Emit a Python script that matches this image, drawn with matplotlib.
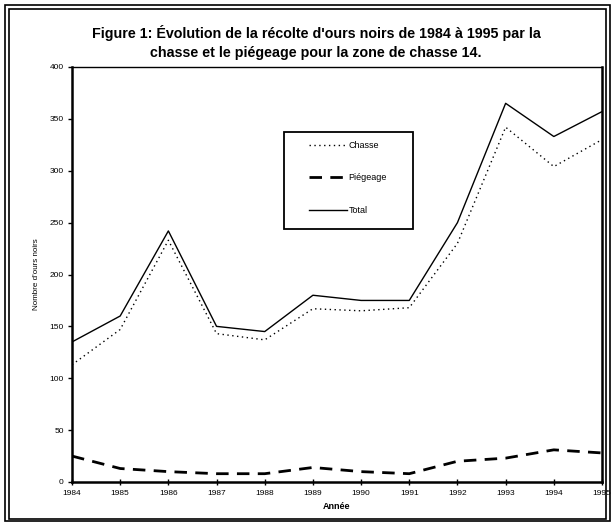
import matplotlib
matplotlib.use("Agg")
import matplotlib.pyplot as plt
from matplotlib.patches import Rectangle

plt.rcParams["font.family"] = ["Liberation Sans", "DejaVu Sans"]

years = list(range(1984, 1996))
chasse = [113, 147, 233, 143, 137, 167, 165, 168, 230, 342, 304, 330]
piegeage = [25, 13, 10, 8, 8, 14, 10, 8, 20, 23, 31, 28]
total = [135, 160, 242, 150, 145, 180, 175, 175, 250, 365, 333, 357]
y_ticks = list(range(0, 401, 50))

W, H = 614, 522
fig = plt.figure(figsize=(W / 100, H / 100), dpi=100)
# plot area in pixels: x 72..602, y 67..482
ax = fig.add_axes([72 / W, 1 - 482 / H, 530 / W, 415 / H])

ax.plot(years, chasse, color="black", lw=1.0, ls=(0, (1, 2.5)), label="Chasse")
ax.plot(years, piegeage, color="black", lw=2.0, ls=(0, (4.5, 3)), label="Piégeage")
ax.plot(years, total, color="black", lw=1.0, ls="-", label="Total")

ax.set_xlim(years[0], years[-1])
ax.set_ylim(0, 400)
ax.set_xticks(years, [str(y) for y in years])
ax.set_yticks(y_ticks, [str(v) for v in y_ticks])
ax.tick_params(axis="both", labelsize=6, width=1, pad=3)
ax.tick_params(axis="x", direction="inout", length=5)
ax.tick_params(axis="y", direction="out", length=3)
for side in ("left", "bottom", "right"):
    ax.spines[side].set_linewidth(1.8)
ax.spines["top"].set_linewidth(1.0)

ax.set_xlabel("Année", fontsize=6.5, fontweight="bold", labelpad=4)
ax.set_ylabel("Nombre d'ours noirs", fontsize=5.8, labelpad=7)

# legend: entries without frame, box drawn separately (wide left/right padding)
leg = ax.legend(loc="upper left", bbox_to_anchor=(309 / W, 1 - 141 / H),
                bbox_transform=fig.transFigure, fontsize=6.5, frameon=False,
                handlelength=4.2, labelspacing=2.6, borderpad=0,
                borderaxespad=0, handletextpad=0.2)
fig.add_artist(Rectangle((284 / W, 1 - 229 / H), 129 / W, 97 / H,
                         transform=fig.transFigure, fill=False, lw=1.3,
                         edgecolor="black"))

fig.text(316 / W, 1 - 33 / H,
         "Figure 1: Évolution de la récolte d'ours noirs de 1984 à 1995 par la",
         ha="center", va="center", fontsize=10.3, fontweight="bold")
fig.text(316 / W, 1 - 53 / H, "chasse et le piégeage pour la zone de chasse 14.",
         ha="center", va="center", fontsize=10.3, fontweight="bold")

# double page frame
fig.add_artist(Rectangle((5 / W, 1 / H), 605 / W, 516 / H, transform=fig.transFigure,
                         fill=False, lw=1.2, edgecolor="black"))
fig.add_artist(Rectangle((9 / W, 3 / H), 597 / W, 510 / H, transform=fig.transFigure,
                         fill=False, lw=1.2, edgecolor="black"))

fig.savefig("out.png", dpi=100)
